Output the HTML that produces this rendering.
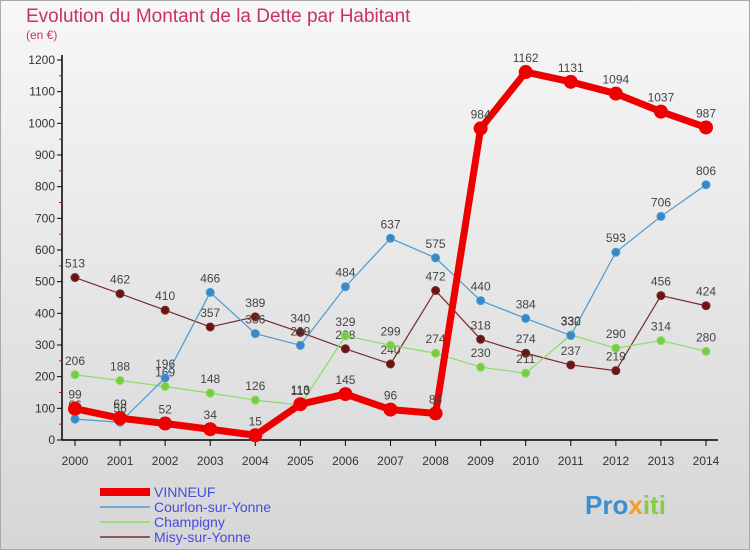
<!DOCTYPE html>
<html><head><meta charset="utf-8"><style>
body{margin:0;}
#wrap{width:750px;height:550px;position:relative;overflow:hidden;font-family:"Liberation Sans",sans-serif;}
</style></head><body>
<div id="wrap">
<svg id="svg" width="750" height="550" xmlns="http://www.w3.org/2000/svg">
<defs><linearGradient id="bg" x1="0" y1="0" x2="0" y2="1"><stop offset="0" stop-color="#f7f7f7"/><stop offset="1" stop-color="#d6d6d6"/></linearGradient></defs>
<rect x="0.5" y="0.5" width="749" height="549" fill="url(#bg)" stroke="#aaa"/>
<text x="26" y="22" font-size="19" fill="#c8306e">Evolution du Montant de la Dette par Habitant</text>
<text x="26" y="39" font-size="12" fill="#c8306e">(en €)</text>
<g id="axes"></g><g id="series"></g>
<text x="585" y="514" font-size="26" font-weight="bold" fill="#3a8fd0">Pro<tspan fill="#f0a020">x</tspan><tspan fill="#88cc44">iti</tspan></text>
</svg>
</div>
<script>
const years=[2000,2001,2002,2003,2004,2005,2006,2007,2008,2009,2010,2011,2012,2013,2014];
const vinneuf=[99,69,52,34,15,113,145,96,84,984,1162,1131,1094,1037,987];
const courlon=[66,56,196,466,336,299,484,637,575,440,384,330,593,706,806];
const champigny=[206,188,169,148,126,110,329,299,274,230,211,332,290,314,280];
const misy=[513,462,410,357,389,340,288,240,472,318,274,237,219,456,424];
const yTicks=[0,100,200,300,400,500,600,700,800,900,1000,1100,1200];
const NS="http://www.w3.org/2000/svg";
const X=i=>75+i*(706-75)/14;
const Y=v=>440-v*380/1200;
function mk(t,a,p){const e=document.createElementNS(NS,t);for(const k in a)e.setAttribute(k,a[k]);p.appendChild(e);return e;}
const ax=document.getElementById('axes');
const yl=mk('line',{x1:62,y1:55,x2:62,y2:440,stroke:'#000','stroke-width':1.5},ax);


const xl=mk('line',{x1:62,y1:440,x2:718,y2:440,stroke:'#000','stroke-width':1.5},ax);


yTicks.forEach(v=>{
  mk('line',{x1:57,y1:Y(v),x2:62,y2:Y(v),stroke:'#000'},ax);
  if(v<1200) mk('line',{x1:59,y1:Y(v+50),x2:62,y2:Y(v+50),stroke:'#e00'},ax);
  const t=mk('text',{x:55,y:Y(v)+4,'font-size':12,'text-anchor':'end',fill:'#333'},ax);
  t.textContent=v;
  
  
});
years.forEach((y,i)=>{
  mk('line',{x1:X(i),y1:440,x2:X(i),y2:446,stroke:'#000'},ax);
  const t=mk('text',{x:X(i),y:465,'font-size':12,'text-anchor':'middle',fill:'#333'},ax);
  t.textContent=y;
  
  
});
const sg=document.getElementById('series');
function draw(vals,color,dot,w,r,name){
  const g=mk('g',{},sg);
  
  
  const p=mk('polyline',{points:vals.map((v,i)=>X(i)+','+Y(v)).join(' '),fill:'none',stroke:color,'stroke-width':w,'stroke-linejoin':'round'},g);
  
  
  vals.forEach((v,i)=>{
    const c=mk('circle',{cx:X(i),cy:Y(v),r:r,fill:dot,stroke:color==dot?'none':color,'stroke-width':1},g);
    
    
    const t=mk('text',{x:X(i),y:Y(v)-10,'font-size':12,'text-anchor':'middle',fill:'#444'},g);
    t.textContent=v;
    
    
  });
}
draw(misy,'#7a2a2a','#6a1515',1.2,4,'misy');
draw(champigny,'#88dd66','#77cc44',1.2,4,'champigny');
draw(courlon,'#4a9ad0','#3a88c8',1.2,4,'courlon');
draw(vinneuf,'#ee0000','#ee0000',7,7,'vinneuf');
const legend=[['VINNEUF','#ee0000',8],['Courlon-sur-Yonne','#4a9ad0',1.5],['Champigny','#88dd66',1.5],['Misy-sur-Yonne','#7a2a2a',1.5]];
const svg=document.getElementById('svg');
legend.forEach((l,i)=>{
  const y=492+i*15;
  const g=mk('g',{},svg);
  
  
  mk('line',{x1:100,y1:y,x2:150,y2:y,stroke:l[1],'stroke-width':l[2]},g);
  const t=mk('text',{x:154,y:y+5,'font-size':14,fill:'#4a4ae0'},g);
  t.textContent=l[0];
});
</script>
</body></html>
